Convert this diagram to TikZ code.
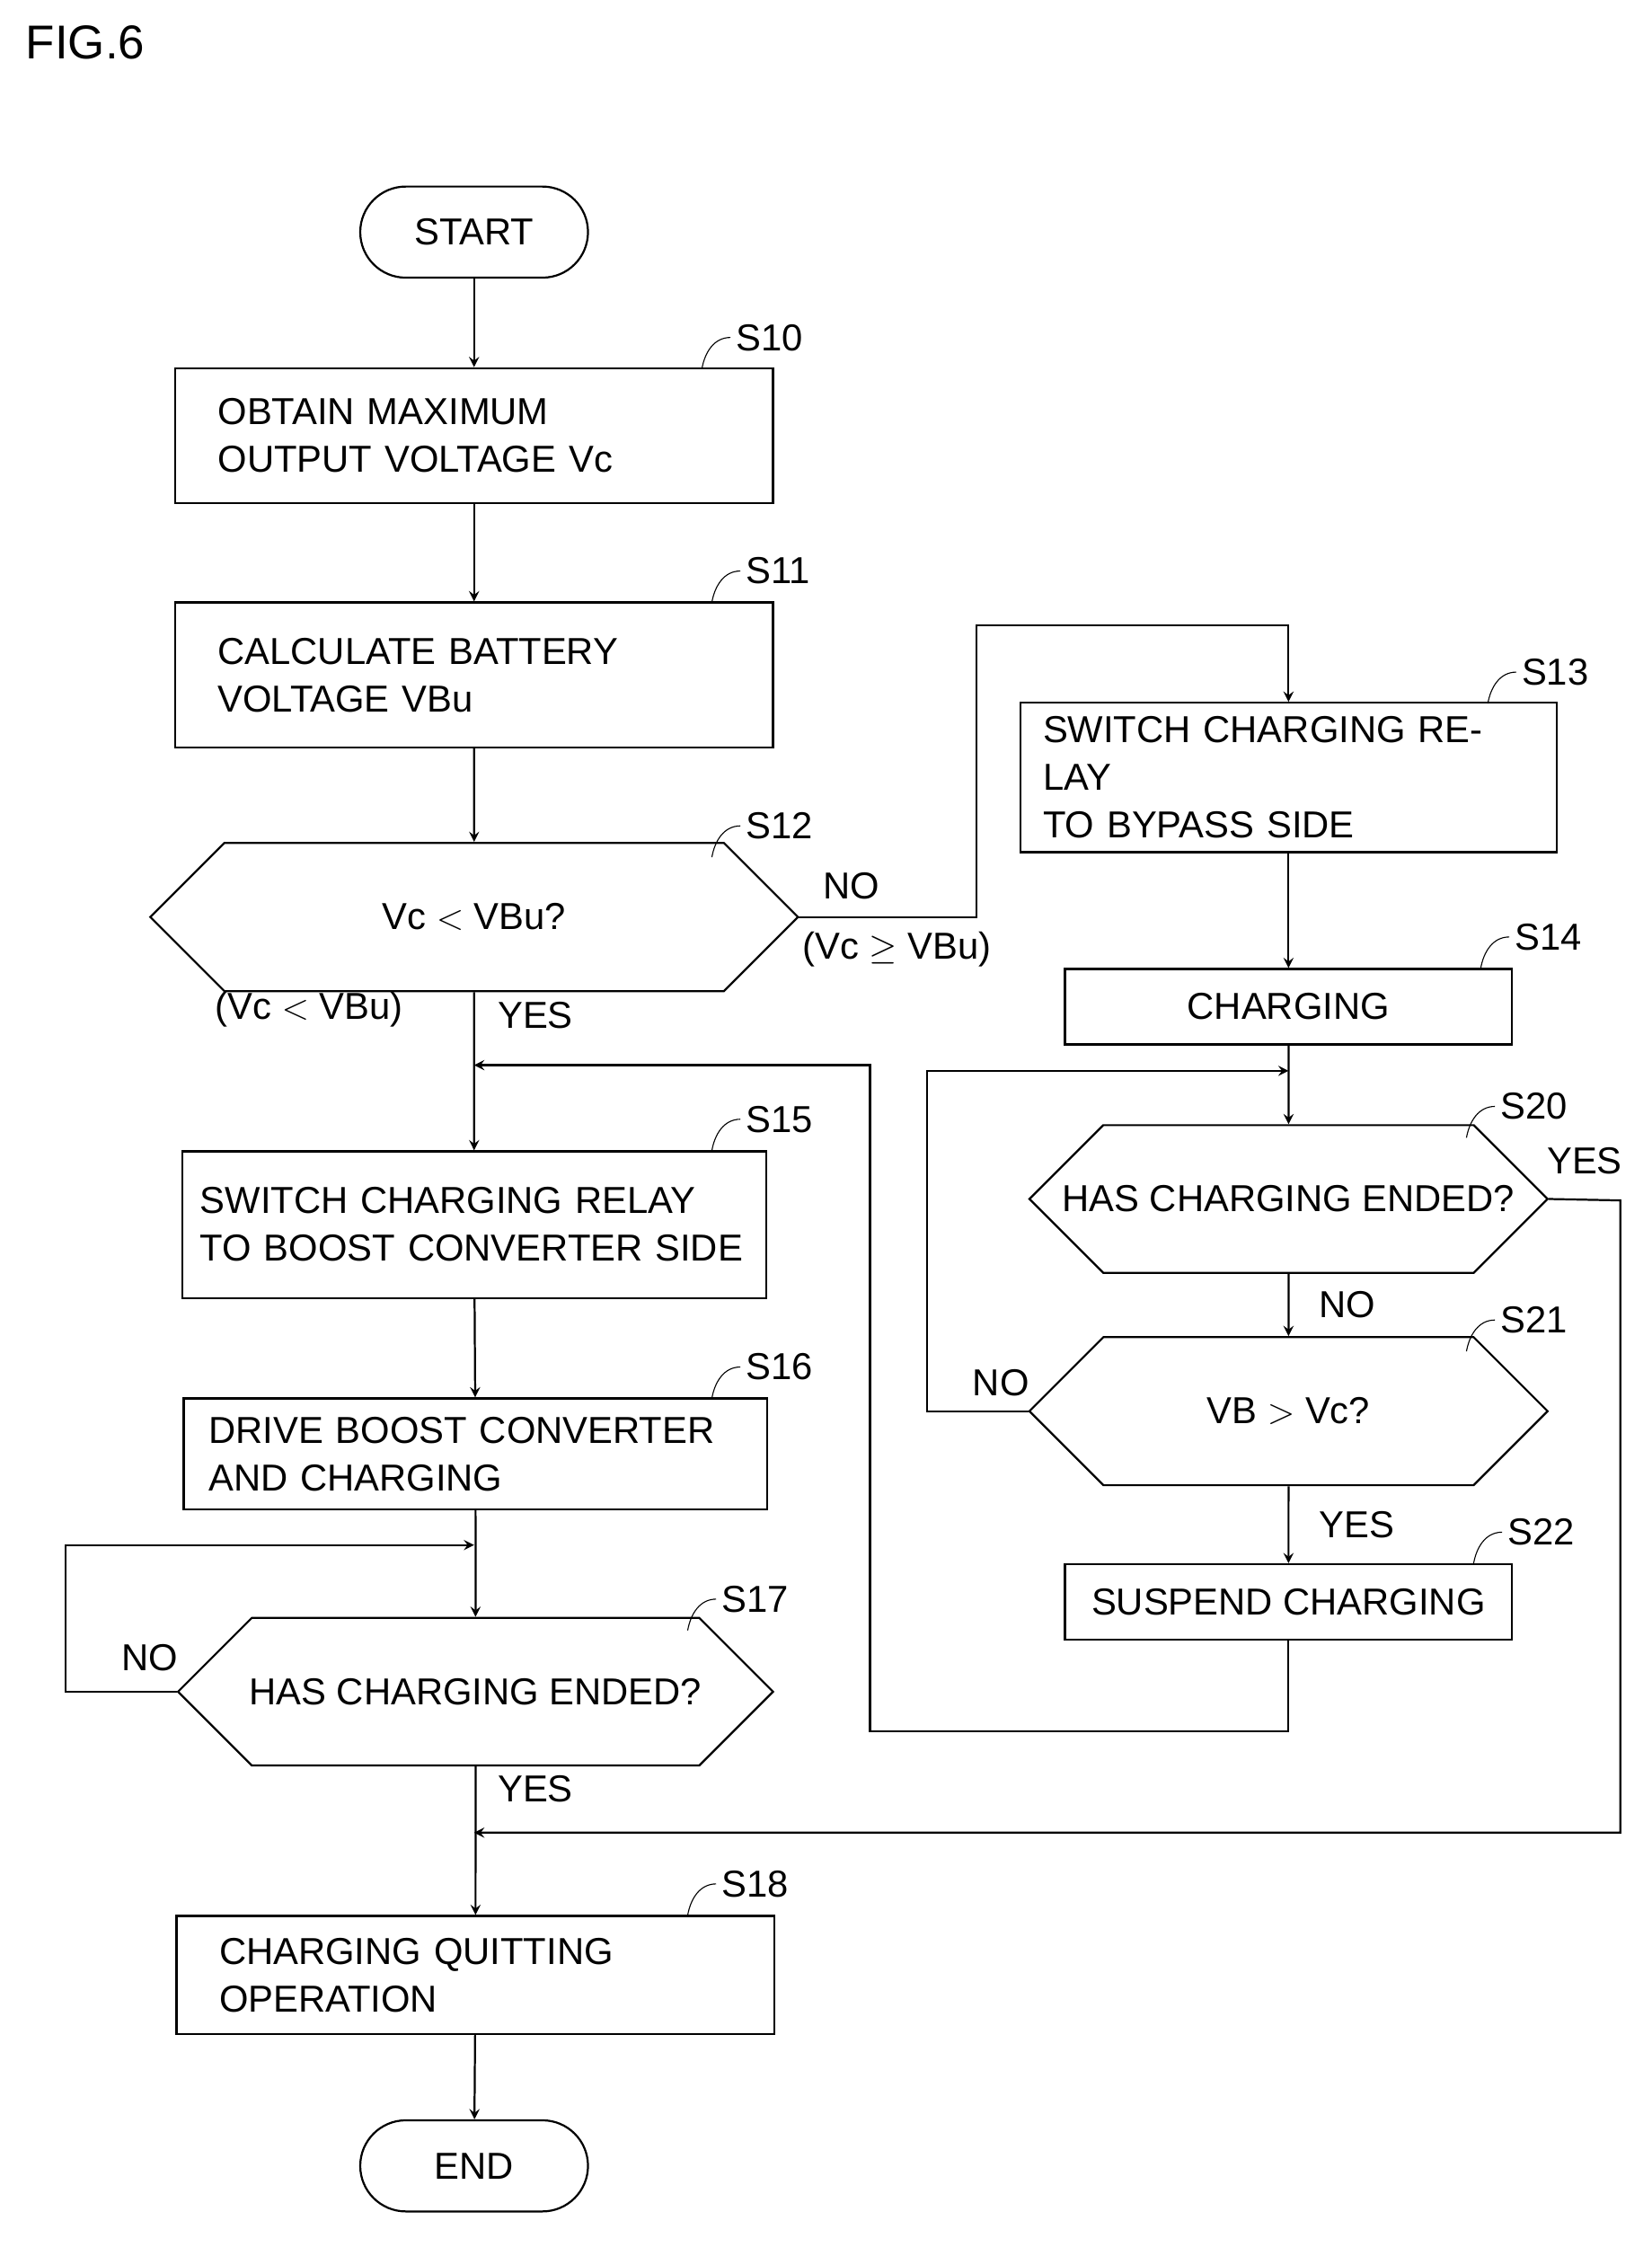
\documentclass[tikz,border=0pt]{standalone}
\usepackage{fontspec}
\setmainfont{Liberation Sans}
\usetikzlibrary{shapes.misc, positioning, arrows}
\tikzstyle{process} = [rectangle, draw=black, thick, minimum height=1.9cm, text width=7.2cm, align=left, inner xsep=0.6cm]
\tikzstyle{shortprocess} = [rectangle, draw=black, thick, minimum width=6.28cm, minimum height=1.06cm, align=center]
\tikzstyle{term} = [rectangle, rounded corners=0.64cm, draw=black, thick, minimum width=3.2cm, minimum height=1.28cm]
\tikzstyle{decide} = [chamfered rectangle, chamfered rectangle xsep=1.18cm, chamfered rectangle ysep=0.85cm, draw=black, thick, minimum height=1.7cm, inner sep=0pt]
\tikzstyle{arrow} = [thick,->,>=stealth]
\tikzstyle{line} = [thick]

\begin{document}
\begin{tikzpicture}[x=0.02cm, y=-0.02cm, font=\fontsize{15}{19}\selectfont]
\useasboundingbox (0,0) rectangle (1160,1578);
\node at (60,30) {\fontsize{19}{22}\selectfont FIG.6};

\node (start) [term] at (333,163) {START};
\node (s10) [process, minimum height=1.9cm] at (333,306) {OBTAIN MAXIMUM\\OUTPUT VOLTAGE Vc};
\node (s11) [process, minimum height=2.04cm] at (333,474) {CALCULATE BATTERY\\VOLTAGE VBu};
\node (s12) [decide, minimum width=9.1cm] at (333,644) {Vc $<$ VBu?};
\node (s15) [process, minimum height=2.06cm, inner xsep=0.25cm, text width=7.7cm] at (333,860) {SWITCH CHARGING RELAY\\TO BOOST CONVERTER SIDE};
\node (s16) [process, minimum height=1.56cm, inner xsep=0.35cm, text width=7.5cm] at (334,1021) {DRIVE BOOST CONVERTER\\AND CHARGING};
\node (s17) [decide, minimum width=8.36cm, chamfered rectangle xsep=1.2cm] at (334,1188) {HAS CHARGING ENDED?};
\node (s18) [process, minimum height=1.66cm] at (334,1387) {CHARGING QUITTING\\OPERATION};
\node (end) [term] at (333,1521) {END};

\node (s13) [process, minimum width=7.54cm, text width=6.9cm, minimum height=2.1cm, inner xsep=0.3cm] at (905,546) {SWITCH CHARGING RELAY\\TO BYPASS SIDE};
\node (s14) [shortprocess] at (905,707) {CHARGING};
\node (s20) [decide, minimum width=7.28cm, chamfered rectangle xsep=0.94cm] at (905,842) {HAS CHARGING ENDED?};
\node (s21) [decide, minimum width=7.28cm, chamfered rectangle xsep=0.94cm] at (905,991) {VB $>$ Vc?};
\node (s22) [shortprocess] at (905,1125) {SUSPEND CHARGING};

\coordinate (j15) at (333,748);
\coordinate (j17) at (333,1085);
\coordinate (j18) at (333,1287);
\coordinate (j20) at (905,752);

\draw [arrow] (start) -- (s10);
\draw [arrow] (s10) -- (s11);
\draw [arrow] (s11) -- (s12);
\draw [arrow] (s12) -- (s15);
\node at (376,713) {YES};
\node at (217,709) {(Vc $<$ VBu)};
\draw [arrow] (s12.east) -- (686,644) -- (686,439) -- (905,439) -- (s13);
\node at (598,622) {NO};
\node at (630,667) {(Vc $\geq$ VBu)};
\draw [arrow] (s13) -- (s14);
\draw [arrow] (s14) -- (s20);
\draw [arrow] (s20) -- node[right, xshift=0.3cm] {NO} (s21);
\draw [arrow] (s21) -- node[right, xshift=0.3cm] {YES} (s22);
\draw [arrow] (s21.west) -- (651,991) -- (651,752) -- (j20);
\node at (703,971) {NO};
\draw [arrow] (s22) -- (905,1216) -- (611,1216) -- (611,748) -- (j15);
\draw [arrow] (s20.east) -- (1138,843) -- (1138,1287) -- (j18);
\node at (1113,815) {YES};
\draw [arrow] (s15) -- (s16);
\draw [arrow] (s16) -- (s17);
\draw [arrow] (s17.west) -- (46,1188) -- (46,1085) -- (j17);
\node at (105,1164) {NO};
\draw [arrow] (s17) -- (s18);
\node at (376,1256) {YES};
\draw [arrow] (s18) -- (end);

% step numbers
\foreach \x/\y/\t in {493/259/S10, 500/423/S11, 500/602/S12, 1045/494/S13, 1040/680/S14, 500/808/S15, 500/982/S16, 483/1145/S17, 483/1345/S18, 1030/799/S20, 1030/949/S21, 1035/1098/S22}
  \draw [line, thin] (\x,\y) to[out=80, in=180] ++(20,-22) node[right, inner sep=2pt] {\t};
\end{tikzpicture}
\end{document}
